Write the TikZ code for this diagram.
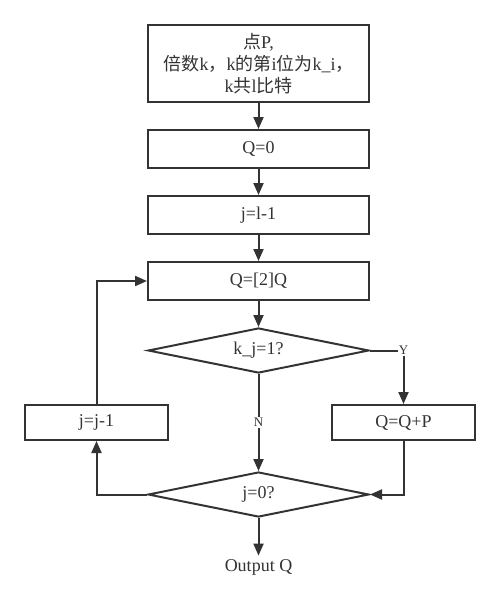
\documentclass[tikz,border=0pt]{standalone}
\usepackage{fontspec}
\setmainfont{Liberation Serif}
\newfontfamily\cjk{Noto Sans CJK SC}
\usetikzlibrary{shapes.geometric,arrows.meta}
\definecolor{ln}{HTML}{333333}
\tikzset{
  box/.style={draw=ln,line width=2pt,rectangle,inner sep=0pt,font=\fontsize{18}{21}\selectfont,text=ln},
  dia/.style={draw=ln,line width=2pt,diamond,aspect=4.9,inner sep=0pt,font=\fontsize{18}{21}\selectfont,text=ln},
  conn/.style={draw=ln,line width=2pt,-{Triangle[length=12pt,width=10pt]}},
  lab/.style={fill=white,inner sep=1pt,font=\fontsize{13}{15}\selectfont,text=ln}
}
\begin{document}
\begin{tikzpicture}[x=1pt,y=-1pt]
\useasboundingbox (0,0) rectangle (500,610);
\node[box,minimum width=221pt,minimum height=77pt,align=center,font=\fontsize{18}{22}\selectfont] (a) at (258.5,63.5)
  {{\cjk 点}P,\\{\cjk 倍数}k{\cjk ，}k{\cjk 的第}i{\cjk 位为}k\_i{\cjk ，}\\k{\cjk 共}l{\cjk 比特}};
\node[box,minimum width=221pt,minimum height=38pt] (b) at (258.5,149) {Q=0};
\node[box,minimum width=221pt,minimum height=38pt] (c) at (258.5,215) {j=l-1};
\node[box,minimum width=221pt,minimum height=38pt] (d) at (258.5,281) {Q=[2]Q};
\node[dia,minimum width=221pt,minimum height=45pt] (e) at (258.5,350.5) {k\_j=1?};
\node[box,minimum width=143pt,minimum height=35pt] (f) at (403.5,422.5) {Q=Q+P};
\node[box,minimum width=143pt,minimum height=35pt] (g) at (96.5,422.5) {j=j-1};
\node[dia,minimum width=221pt,minimum height=45pt] (h) at (258.5,494.5) {j=0?};
\node[font=\fontsize{18}{21}\selectfont,text=ln] (o) at (258.5,567) {Output Q};
\draw[conn] (a) -- (b);
\draw[conn] (b) -- (c);
\draw[conn] (c) -- (d);
\draw[conn] (d) -- (e);
\draw[conn] (e.east) -| node[lab,pos=0.5]{Y} (f.north);
\draw[conn] (e.south) -- node[lab,pos=0.5]{N} (h.north);
\draw[conn] (f.south) |- (h.east);
\draw[conn] (h.west) -| (g.south);
\draw[conn] (g.north) |- (d.west);
\draw[conn] (h.south) -- (o.north);
\end{tikzpicture}
\end{document}
